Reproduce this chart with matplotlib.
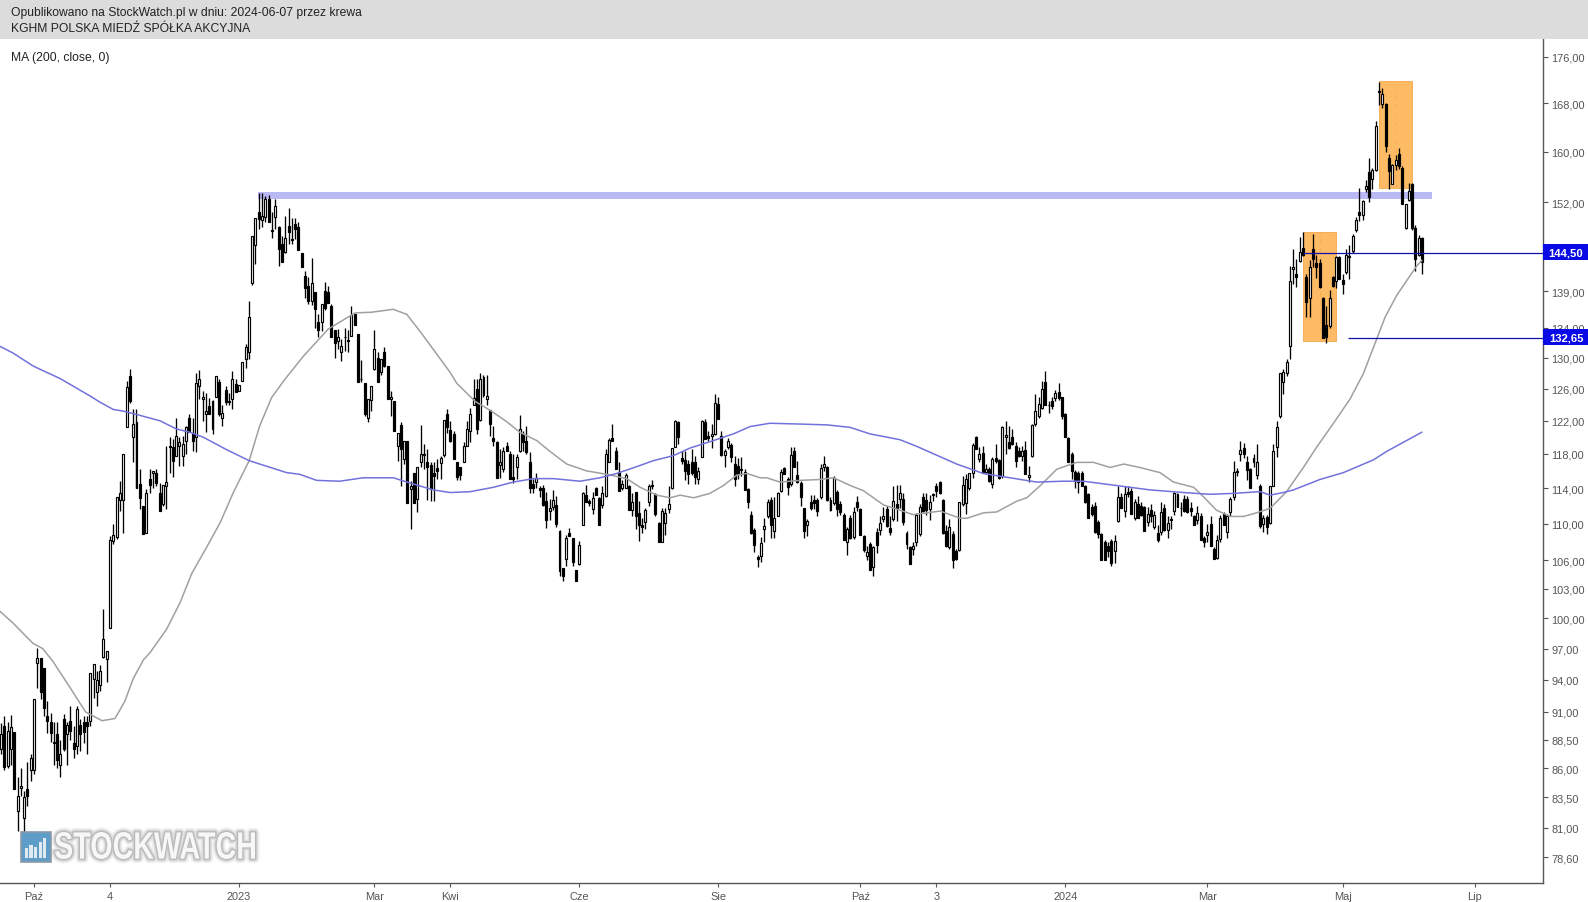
import numpy as np
import matplotlib
matplotlib.use("Agg")
import matplotlib.pyplot as plt
from matplotlib.patches import Rectangle, PathPatch
from matplotlib.textpath import TextPath
from matplotlib.font_manager import FontProperties
from matplotlib.ticker import NullLocator
from matplotlib.transforms import blended_transform_factory, Affine2D, IdentityTransform

plt.rcParams['font.family'] = ['Liberation Sans', 'DejaVu Sans']

opens = [
87.7,89.7,86.2,87.7,89.2,82.4,84.3,81.8,84.2,85.8,
85.8,95.6,96.1,95.1,90.6,90.1,88.3,89.0,86.3,90.4,
89.0,90.2,88.2,87.9,89.8,90.1,90.1,90.2,94.1,92.8,93.5,96.2,96.0,
99.0,108.1,108.5,112.6,112.6,121.2,127.6,120.0,121.9,114.5,112.0,109.0,115.0,115.7,115.8,113.4,112.2,
114.2,118.9,118.8,117.8,118.9,117.8,119.5,122.4,120.5,120.0,126.4,124.7,122.9,123.8,121.0,124.9,126.8,122.4,125.9,124.4,
124.7,126.6,125.7,127.0,129.8,130.8,140.1,145.6,150.6,149.3,149.8,152.6,147.9,149.8,148.3,145.8,144.6,148.4,146.5,148.8,
148.3,144.4,141.2,139.8,137.7,138.9,134.7,134.7,139.1,138.9,137.0,133.7,132.2,130.8,132.8,132.4,132.9,135.8,133.2,127.3,
126.7,122.4,124.6,128.5,130.0,128.2,130.8,128.9,124.7,124.4,118.9,121.5,117.4,119.5,113.9,115.8,112.8,117.0,118.0,117.0,
116.7,115.7,116.3,116.9,117.9,122.9,
120.9,120.4,117.0,116.4,117.1,118.9,120.7,124.0,126.0,122.1,127.5,124.7,123.3,119.9,119.4,116.7,116.2,118.9,118.0,115.3,
116.4,118.4,120.4,119.6,117.0,114.5,114.7,114.0,114.0,112.5,111.4,111.9,112.1,109.2,105.2,106.1,109.0,108.4,105.0,105.6,
109.8,113.2,112.5,111.6,114.0,112.9,112.1,113.1,117.1,119.9,118.4,115.9,114.0,114.0,114.3,111.5,113.6,111.2,109.8,110.2,
112.4,114.4,113.3,110.1,108.0,110.1,111.6,114.0,118.8,121.8,117.5,117.3,116.8,117.0,117.0,115.1,117.6,121.9,120.1,120.1,
120.4,124.1,120.2,117.9,118.8,119.1,116.8,116.6,116.2,115.9,113.9,111.0,109.3,106.4,106.5,109.4,110.8,112.7,109.2,110.8,
113.7,116.3,115.1,114.5,118.4,115.5,114.6,111.7,109.9,112.4,112.7,112.7,113.0,116.5,116.4,112.6,112.3,113.6,112.2,111.0,108.0,
110.6,108.5,112.4,111.6,108.6,106.5,107.8,105.3,109.1,109.3,
110.5,111.6,109.5,110.5,112.2,112.8,112.8,109.0,107.4,107.2,
108.0,108.9,113.0,112.6,111.6,113.3,114.3,114.7,112.6,109.2,
107.4,108.9,107.0,107.1,112.2,112.3,114.0,115.7,120.0,117.4,
118.1,115.9,116.2,114.5,117.5,117.3,115.4,120.0,119.4,120.0,
118.9,118.4,117.8,118.5,115.3,117.8,121.6,122.6,123.6,126.9,
124.0,124.4,124.8,125.6,124.9,122.9,119.9,118.0,115.9,115.8,
115.8,114.3,113.3,111.9,112.0,110.2,108.9,108.0,107.5,108.1,
107.0,110.3,113.0,111.4,113.6,113.7,110.6,112.2,112.0,111.9,
110.2,111.5,109.6,109.0,109.1,111.8,109.3,110.5,111.4,113.3,
111.7,112.8,112.8,111.8,110.8,110.4,110.9,108.4,108.8,110.0,
107.2,106.3,108.3,111.1,109.1,111.3,113.0,116.0,118.0,118.7,
117.0,116.2,117.0,115.5,114.2,110.0,110.7,110.1,114.3,118.8,122.6,126.8,128.0,
131.5,142.1,141.5,143.3,145.2,141.0,138.0,145.0,143.0,143.0,
138.0,134.4,134.2,141.0,140.4,143.9,140.6,141.7,144.0,144.7,
147.9,150.6,150.1,154.1,156.8,155.7,157.1,170.0,167.9,167.9,
158.9,154.9,157.9,159.6,157.4,148.1,152.4,154.8,148.1,144.1,146.6]

highs = [
90.0,90.6,90.1,90.7,89.2,85.2,86.0,84.0,86.5,87.2,
92.2,97.1,96.1,95.1,92.0,90.9,90.1,90.1,88.5,90.8,
90.1,91.5,89.7,91.5,90.4,90.6,90.6,94.6,95.5,94.8,95.4,100.9,96.8,
108.6,110.0,113.0,114.8,118.0,127.0,128.5,123.4,123.4,116.2,112.0,113.9,116.2,116.0,116.2,114.6,114.4,
119.0,120.0,119.8,122.3,120.0,120.2,121.4,122.8,122.3,128.0,128.4,125.7,125.5,124.8,124.6,127.6,127.2,124.0,126.4,125.5,
128.3,127.2,126.5,129.4,131.8,137.7,146.9,149.6,153.4,153.4,153.0,153.1,150.5,152.5,148.4,147.0,150.0,151.2,149.7,149.7,
149.0,144.4,141.8,141.0,143.7,138.9,135.8,137.2,140.3,139.8,137.2,133.7,133.8,132.5,134.0,133.7,137.0,135.8,133.2,129.7,
126.7,124.7,126.3,133.7,130.8,129.8,131.4,128.9,125.7,124.4,120.5,121.8,119.5,119.5,114.8,115.8,116.4,121.5,119.2,118.6,
117.0,117.0,117.4,117.8,122.1,123.4,
122.0,120.8,117.0,116.4,119.4,122.0,123.6,127.3,127.3,128.0,127.8,127.7,123.3,121.4,119.6,118.6,118.8,119.4,118.4,118.0,
118.0,122.7,120.8,121.4,118.2,115.0,115.7,114.2,114.4,113.6,112.8,113.8,113.1,109.3,105.2,108.7,109.5,108.4,105.0,108.1,
113.6,114.4,112.8,113.6,114.1,113.0,114.3,118.6,119.9,121.6,118.8,117.0,114.9,115.7,114.4,113.4,113.6,112.5,110.6,111.8,
114.5,114.9,113.4,110.2,111.8,111.7,114.2,118.7,122.1,122.0,118.3,118.3,117.3,118.6,117.8,116.4,122.1,122.2,120.8,121.6,
125.4,125.0,120.8,118.6,119.9,119.3,117.7,117.5,117.6,116.2,114.0,111.4,109.5,106.6,108.5,110.6,112.8,113.0,113.0,113.6,
116.2,116.4,115.3,118.8,118.8,117.2,114.8,111.8,110.5,113.2,113.2,112.9,116.8,117.7,116.6,113.0,115.4,113.8,112.5,111.2,109.6,
111.0,111.9,113.1,111.7,108.8,107.5,108.0,107.6,109.5,110.9,
111.9,112.0,110.9,114.3,114.4,114.4,113.4,109.2,107.6,108.0,
111.2,112.2,113.4,113.5,113.2,113.5,114.6,114.8,112.8,109.9,
110.5,109.2,107.2,112.4,115.4,115.6,115.8,119.3,120.2,118.8,
118.9,116.8,116.5,117.6,119.2,117.4,121.4,122.0,121.4,121.0,
119.4,118.8,118.9,119.6,116.6,121.6,125.3,124.9,127.0,128.3,
124.5,124.9,125.8,126.7,125.0,123.0,120.0,118.2,116.1,116.0,
116.0,114.4,113.5,112.2,112.4,110.4,109.0,108.2,108.0,108.3,
108.8,114.2,113.5,114.3,114.2,114.0,112.8,113.1,112.4,112.0,
111.9,112.2,111.4,109.8,112.4,112.2,110.8,110.9,113.6,113.5,
112.4,113.2,113.1,112.4,111.0,112.0,111.2,108.6,110.0,110.8,
107.4,108.8,111.0,111.3,111.1,113.0,117.2,116.3,119.5,119.3,
117.7,116.3,118.0,119.2,114.5,111.0,111.0,114.3,119.2,122.0,128.0,128.5,129.8,
142.6,145.0,143.6,146.8,147.6,141.5,143.4,147.2,144.1,143.6,
138.2,137.0,139.2,141.2,144.0,144.0,141.4,145.0,145.7,147.2,
149.8,154.3,152.4,155.5,158.9,157.4,165.0,171.6,170.6,168.0,
159.6,158.0,159.4,160.6,157.7,151.7,155.0,155.0,148.6,147.1,146.8]

lows = [
87.2,85.8,86.0,86.3,84.2,80.7,83.6,80.1,82.8,84.9,
85.5,93.2,92.2,90.6,89.1,88.3,86.3,86.0,85.2,87.5,
86.3,88.5,86.9,87.2,87.5,88.2,87.2,89.7,92.3,91.5,92.9,96.1,93.8,
99.0,107.8,108.3,111.4,109.0,121.2,124.2,117.1,114.0,111.6,108.9,109.0,113.5,114.0,114.2,111.4,112.0,
111.6,115.8,115.3,117.8,116.6,116.6,118.0,120.6,118.4,118.2,124.7,122.0,120.6,122.8,120.4,124.9,122.6,121.4,123.9,123.9,
123.4,125.6,125.7,127.0,128.6,129.8,139.9,142.8,148.0,148.3,149.0,149.0,146.6,148.0,142.6,143.2,144.5,145.8,145.8,146.5,
144.9,142.4,138.1,137.2,137.1,134.0,132.8,133.5,136.4,137.4,132.7,130.0,131.1,129.6,130.9,130.8,132.9,134.4,126.9,126.8,
122.6,121.8,123.2,128.4,126.9,127.8,128.8,124.7,122.6,120.8,117.2,114.2,116.8,112.3,109.4,112.3,111.3,116.4,116.2,112.7,
112.5,112.5,115.0,115.0,117.6,120.5,
119.4,117.4,114.9,114.9,117.1,118.9,119.4,124.0,120.4,122.0,125.0,124.0,120.1,119.0,115.2,115.2,115.9,118.3,115.0,114.6,
115.1,118.2,118.4,118.0,113.4,113.4,114.0,113.0,112.0,109.5,110.4,111.5,109.6,104.4,103.8,105.4,108.6,105.4,103.8,105.5,
109.8,112.4,112.0,111.1,113.2,109.9,111.8,113.0,117.0,119.5,116.2,113.7,113.8,114.0,111.5,110.9,109.4,108.1,109.0,109.4,
112.0,113.9,110.9,108.0,108.0,108.7,111.2,113.9,118.8,119.2,116.8,114.9,114.5,115.5,114.5,114.5,117.6,119.8,119.5,118.7,
120.3,122.2,117.8,116.4,118.6,117.0,114.3,115.1,115.4,113.8,111.7,108.9,106.9,105.3,105.8,108.0,110.6,108.4,108.4,110.8,
113.6,115.6,113.2,114.3,116.4,114.6,112.0,108.4,108.6,111.5,111.6,110.9,112.8,116.0,112.5,111.4,112.1,110.9,111.0,108.2,106.6,
108.3,108.3,111.4,108.7,106.9,106.0,105.0,104.4,106.8,108.8,
110.2,109.6,108.8,110.3,110.3,111.7,109.8,107.2,105.6,106.6,
107.6,108.6,111.3,111.0,110.4,112.5,113.0,113.3,108.9,107.4,
107.2,105.2,106.0,107.0,112.0,111.1,113.8,115.2,118.6,117.0,
115.8,115.6,114.7,114.0,116.9,115.0,115.2,118.0,118.6,119.1,
116.4,117.6,117.2,115.6,114.7,117.6,121.4,122.4,123.5,123.9,
123.0,123.4,124.5,124.6,122.2,120.0,117.1,115.0,114.0,113.4,
114.2,112.3,110.6,110.8,109.0,108.4,106.0,106.0,106.4,105.4,
105.7,110.2,111.8,110.7,113.0,111.1,110.4,110.6,110.8,109.2,
109.7,110.2,109.4,108.0,108.8,109.2,108.4,109.4,111.0,111.9,
110.9,111.3,111.2,110.9,109.9,110.0,108.2,107.4,108.0,107.6,
106.2,106.2,108.0,109.8,108.4,110.9,112.6,115.4,117.2,117.5,
114.9,114.0,116.5,115.0,109.5,109.1,108.9,110.0,114.2,117.6,122.4,125.3,127.6,
129.9,140.0,139.6,143.2,144.0,135.5,135.4,142.4,140.8,139.4,
132.6,132.0,134.0,139.6,139.5,140.7,138.6,141.5,140.7,144.5,
147.6,149.2,149.4,153.6,152.1,154.0,156.9,167.7,167.2,159.9,
154.1,154.8,157.0,157.2,151.7,148.0,152.2,147.8,141.9,144.0,141.5]

closes = [
89.0,86.1,89.3,89.6,84.2,83.6,84.5,83.5,83.6,86.9,
92.2,96.1,92.8,91.4,90.2,89.1,88.2,86.7,87.2,87.7,
89.8,89.3,87.7,91.3,89.0,89.2,89.7,94.6,95.5,94.0,94.8,97.9,96.8,
108.2,108.8,113.0,113.5,118.0,126.2,124.4,121.6,114.0,112.9,108.9,113.4,114.4,116.0,114.6,111.4,114.4,
114.7,118.8,117.2,120.2,119.4,119.2,121.2,120.6,119.6,126.7,127.2,124.9,123.2,122.8,124.4,127.6,122.8,123.0,124.3,124.3,
127.3,125.6,126.5,129.4,131.4,135.4,146.9,149.6,149.5,149.9,152.5,149.0,147.7,151.4,145.1,143.2,146.6,147.5,146.4,148.0,
144.9,142.4,139.5,137.7,140.2,136.6,133.7,137.2,136.7,137.4,132.7,132.0,132.7,131.5,132.7,132.2,135.7,134.4,126.9,127.2,
122.8,124.7,126.3,131.1,126.9,129.8,128.9,124.7,124.9,120.8,120.5,118.6,119.5,112.3,114.2,112.3,116.4,118.0,117.9,116.4,
113.9,115.4,116.0,117.5,122.1,121.2,
119.6,117.4,115.3,115.5,119.0,121.0,122.9,124.8,121.0,127.3,125.2,125.1,121.6,119.6,115.2,117.0,118.4,118.4,115.1,115.1,
117.6,121.0,119.4,118.2,114.0,114.0,115.2,113.8,112.1,110.4,111.7,112.6,110.0,104.9,104.4,108.4,108.6,105.8,103.8,107.7,
113.5,112.4,112.3,112.9,113.2,109.9,113.4,118.0,119.7,119.6,116.2,113.7,114.5,115.5,111.5,112.4,110.8,109.8,109.6,111.5,
114.3,114.3,111.1,108.0,111.4,111.2,112.2,118.7,122.0,120.0,117.2,116.0,115.6,115.8,115.3,116.0,122.0,119.8,119.9,120.4,
124.2,122.2,117.9,118.4,119.6,117.6,115.1,115.6,116.1,113.8,112.4,109.0,107.7,106.1,107.9,109.7,112.4,109.8,110.6,113.4,
115.9,115.6,114.1,117.9,116.4,114.7,113.0,109.2,110.3,111.8,112.3,111.4,116.3,116.8,112.6,111.5,115.2,111.6,111.3,108.2,109.4,
108.4,111.3,111.9,108.8,107.1,106.9,105.0,107.4,107.7,110.1,
110.9,109.7,109.1,112.5,111.8,113.4,110.2,107.8,105.6,107.5,
111.0,111.9,111.4,111.5,112.4,113.2,113.7,113.4,109.0,107.5,
109.6,106.0,106.1,112.4,114.4,115.0,115.7,119.1,118.6,118.0,
115.9,116.2,114.8,117.4,117.2,115.2,121.3,120.3,118.7,119.2,
117.2,117.8,118.4,115.6,115.5,121.5,123.2,124.1,126.0,123.9,
123.9,123.8,125.5,124.8,122.6,120.0,117.1,116.0,114.8,114.7,
114.3,112.4,110.6,111.1,109.1,108.9,106.0,106.0,107.0,105.7,
108.1,113.0,111.8,113.3,113.3,111.1,112.4,110.6,111.0,109.2,
111.1,110.8,111.0,108.2,111.3,109.3,110.1,110.4,113.4,111.9,
111.8,111.4,111.3,111.4,109.9,111.2,108.2,108.0,109.1,107.6,
106.2,108.2,110.6,109.8,110.9,112.8,115.9,115.9,118.5,118.0,
116.1,114.0,117.5,117.0,109.7,110.6,109.6,114.2,118.4,121.3,128.0,128.2,129.4,
140.5,142.4,141.0,144.6,144.1,137.5,142.4,143.6,142.4,139.6,
132.6,132.8,138.0,139.7,143.9,140.7,140.0,144.1,143.9,146.9,
149.4,150.1,152.3,154.6,152.9,157.1,164.2,169.9,169.6,160.9,
156.9,157.9,158.6,157.7,151.7,151.7,153.8,148.1,143.6,146.6,143.2]

ma_grey_idx = [-0.3,3.7,9.7,12.6,15.6,20.6,25.6,30.6,34.5,
    37.5,40,43.1,45.1,50.1,54.2,57.7,62.2,66.3,70.3,73.3,75.1,
    78.3,81.9,85.9,91.5,99,107.1,112.2,118.7,122.8,126.8,130.8,135.9,
    137.9,143.5,148,153,157,162.1,166.1,171.2,177.2,183.3,189.3,193.4,198.4,202.5,205.5,209.6,214.5,218.6,222.6,225.7,229.7,231.7,235.7,241.8,247.9,251.9,257,
    261,267,272,276,280.1,284.2,290.2,292.3,297.3,301.3,307.3,310.4,314.5,319.5,325.5,330.6,335.6,339.7,344.6,350.7,354.8,360.9,363.9,367.8,371.9,376,379,
    384,389,394.1,398.1,403.2,408.2,412.2,416.3,418.8,422.3,428.1,429.9]
ma_grey = [100.7,99.5,97.5,97.0,95.8,93.4,91.0,90.2,90.4,
    92.0,94.1,95.9,96.6,98.9,101.6,104.6,107.4,110.1,113.5,115.8,117.2,
    121.4,124.9,127.2,130.2,133.8,136.0,136.1,136.5,135.8,133.5,131.1,128.1,
    126.7,124.4,123.3,121.9,120.6,119.6,118.3,116.8,116.0,115.6,115.1,114.1,113.2,112.9,113.2,112.9,113.4,114.3,115.5,115.7,115.2,115.2,114.7,114.9,115.0,115.2,114.3,
    113.7,112.1,111.5,111.0,111.2,111.4,110.6,110.6,111.2,111.3,112.5,112.9,114.3,116.2,117.0,117.0,116.4,116.8,116.4,115.8,114.7,114.1,113.0,111.5,110.8,110.8,111.1,
    111.7,113.6,116.4,118.8,121.7,124.7,127.9,132.5,135.4,138.4,142.4,143.4]

ma_blue_idx = [-0.3,3.7,9.8,17.9,26.9,30,34,37,41.8,48.1,53.1,57.2,61.2,68.3,75.1,86.4,90.4,95.5,102.5,109.6,118.7,123.7,130.8,135.9,
    142,149,155,161.1,167.2,175.2,181.3,186.3,192.4,197.4,203.5,208.5,215.6,221.6,226.7,232.7,241.8,249.9,256.9,
    263,272,277.1,289.2,297.2,305.3,313.4,321.4,327.5,337.6,347.7,357.8,365.8,372.9,381,
    384,388,391.1,399.1,406.2,415.3,419.3,429.9]
ma_blue = [131.5,130.6,128.9,127.3,125.1,124.3,123.4,123.2,122.7,122.0,121.0,120.6,120.0,118.5,117.2,115.8,115.6,114.9,114.8,115.2,115.2,114.6,113.8,113.5,
    113.6,114.1,114.7,115.1,115.1,114.8,115.2,115.7,116.5,117.2,117.8,118.7,119.6,120.4,121.3,121.7,121.6,121.5,121.2,
    120.4,119.7,118.9,116.8,115.7,115.2,114.7,114.8,114.8,114.3,113.8,113.5,113.3,113.4,113.6,
    113.2,113.5,113.8,115.0,115.8,117.3,118.3,120.6]

y_ticks = [176,168,160,152,139,134,130,126,122,118,114,110,106,103,100,97,94,91,88.5,86,83.5,81,78.6]
y_labels = ['176,00','168,00','160,00','152,00','139,00','134,00','130,00','126,00','122,00','118,00','114,00','110,00',
            '106,00','103,00','100,00','97,00','94,00','91,00','88,50','86,00','83,50','81,00','78,60']
x_ticks = [10,33,72,113,136,175,217,260,283,322,365,406,446]
x_labels = ['Paź','4','2023','Mar','Kwi','Cze','Sie','Paź','3','2024','Mar','Maj','Lip']

levels = [144.5, 132.65]
level_labels = ['144,50', '132,65']
level_starts = [394, 407.6]
zones = [(394, 404, 132.2, 147.6), (417, 427, 154.3, 171.7)]
band_span = (77.8, 433)
band_prices = (152.6, 153.6)

W, H = 1588, 903
fig = plt.figure(figsize=(W/100, H/100), dpi=100, facecolor='white')
ax = fig.add_axes([0, 1-884/H, 1543/W, (884-40)/H])
ax.set_yscale('log')
ax.set_xlim(-0.303, 466.6)
ax.set_ylim(76.6, 179.2)
ax.set_facecolor('white')

# annotations beneath the candles
ax.add_patch(Rectangle((band_span[0], band_prices[0]), band_span[1]-band_span[0], band_prices[1]-band_prices[0],
                       facecolor='#b9b9f5', edgecolor='none', zorder=1.2))
for x0, x1, lo, hi in zones:
    ax.add_patch(Rectangle((x0, lo), x1-x0, hi-lo, facecolor='#fdbb66', edgecolor='#f7ae55',
                           linewidth=0.7, zorder=1.1))
    ax.plot([(x0+x1)/2]*2, [lo, hi], color='#f8b05a', lw=0.8, ls=(0, (4, 4)), zorder=1.15)

O, Hi, Lo, C = map(np.array, (opens, highs, lows, closes))
x = np.arange(len(O))
ax.vlines(x, Lo, Hi, color='black', lw=0.95, zorder=2)
up = C >= O
ax.bar(x[up], (C-O)[up], bottom=O[up], width=0.6, facecolor='white', edgecolor='black', linewidth=0.85, zorder=2.1)
ax.bar(x[~up], (O-C)[~up], bottom=C[~up], width=0.6, facecolor='black', edgecolor='black', linewidth=0.85, zorder=2.1)

ax.plot(ma_grey_idx, ma_grey, color='#a0a0a0', lw=1.1, zorder=3)
ax.plot(ma_blue_idx, ma_blue, color='#7272dc', lw=1.1, zorder=3)

trans = blended_transform_factory(ax.transAxes, ax.transData)
for lv, lb, st in zip(levels, level_labels, level_starts):
    ax.plot([st, 466.6], [lv, lv], color='#1010a8', lw=0.9, zorder=4, solid_capstyle='butt')
    ax.add_patch(Rectangle((1.0, lv*0.9925), 45/1543, lv*0.0160, transform=trans, facecolor='#0a0ae6',
                           edgecolor='none', clip_on=False, zorder=9))
    ax.text(1566/1543, lv, lb, transform=trans, ha='center', va='center', color='white',
            fontsize=8.1, fontweight='bold', zorder=10, clip_on=False)

for s in ['top', 'left']:
    ax.spines[s].set_visible(False)
for s in ['right', 'bottom']:
    ax.spines[s].set_color('#555555')
    ax.spines[s].set_linewidth(1.0)
ax.yaxis.tick_right()
ax.yaxis.set_minor_locator(NullLocator())
ax.set_yticks(y_ticks)
ax.set_yticklabels(y_labels)
ax.set_xticks(x_ticks)
ax.set_xticklabels(x_labels)
ax.tick_params(axis='y', length=3.5, width=0.8, color='#555555', labelcolor='#555555', labelsize=7.9, pad=2.5)
ax.tick_params(axis='x', length=3, width=0.8, color='#555555', labelcolor='#555555', labelsize=7.9, pad=2.5)

# header
fig.add_artist(Rectangle((0, 1-40/H), 1, 40/H, transform=fig.transFigure, facecolor='#dcdcdc', edgecolor='none'))
for ty, t in [(13, 'Opublikowano na StockWatch.pl w dniu: 2024-06-07 przez krewa'),
              (28.5, 'KGHM POLSKA MIEDŹ SPÓŁKA AKCYJNA'),
              (58, 'MA (200, close, 0)')]:
    fig.text(11/W, 1-ty/H, t, ha='left', va='center', fontsize=8.75, color='#222222')

# watermark
fig.add_artist(Rectangle((21/W, 1-863/H), 30/W, 30/H, transform=fig.transFigure,
                         facecolor='#5f9dc9', edgecolor='#8c99a5', linewidth=1.2))
for bx, bh in [(25, 10), (29.5, 13), (34, 11), (38.5, 16), (43, 20)]:
    fig.add_artist(Rectangle((bx/W, 1-859/H), 3/W, bh/H, transform=fig.transFigure,
                             facecolor='#dfeaf2', edgecolor='none'))
tp = TextPath((0, 0), 'STOCKWATCH', size=30, prop=FontProperties(family='Liberation Sans', weight='bold'))
bb = tp.get_extents()
tf = (Affine2D().translate(-bb.x0, -bb.y0).scale(200/bb.width, 27/bb.height)
      .translate(55, H-860) + IdentityTransform())
for lw, col, alpha in [(6.5, '#888888', 0.10), (4.5, '#888888', 0.16), (2.8, '#888888', 0.25), (1.5, '#999999', 0.35)]:
    fig.add_artist(PathPatch(tp, transform=tf, facecolor='none', edgecolor=col, linewidth=lw, alpha=alpha,
                             joinstyle='round', capstyle='round'))
fig.add_artist(PathPatch(tp, transform=tf, facecolor='#f7f7f7', edgecolor='none'))

fig.savefig('out.png', dpi=100)
